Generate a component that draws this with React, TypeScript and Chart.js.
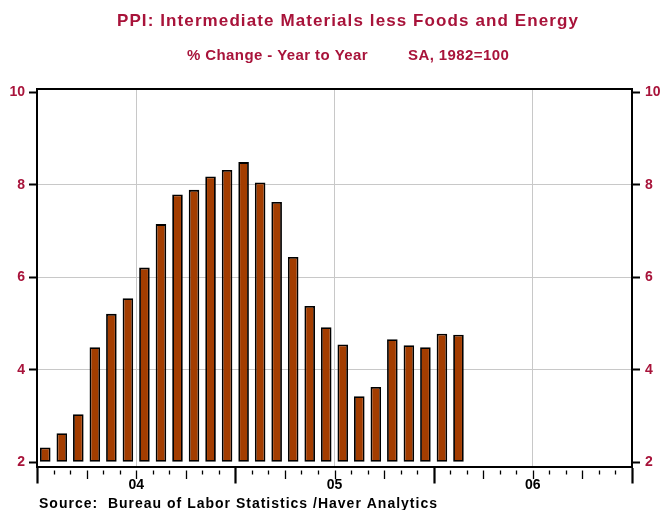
import React, { useEffect, useRef } from "react";
import { Chart, registerables } from "chart.js";

Chart.register(...registerables);

const TITLE = "PPI: Intermediate Materials less Foods and Energy";
const SUBTITLE_LEFT = "% Change - Year to Year";
const SUBTITLE_RIGHT = "SA, 1982=100";
const SOURCE = "Source:  Bureau of Labor Statistics /Haver Analytics";

const YEARS = ["2004", "2005", "2006"];
const YEAR_LABELS = ["04", "05", "06"];
const MONTHS = ["01", "02", "03", "04", "05", "06", "07", "08", "09", "10", "11", "12"];
const categories: string[] = YEARS.flatMap((y) => MONTHS.map((m) => `${y}-${m}`));

const ppiValues = [
  2.32, 2.63, 3.04, 4.49, 5.21, 5.55, 6.21, 7.15, 7.79, 7.89, 8.18, 8.32,
  8.49, 8.05, 7.63, 6.44, 5.38, 4.92, 4.55, 3.43, 3.63, 4.66, 4.53, 4.49,
  4.78, 4.76,
];

const yTicks = [2, 4, 6, 8, 10];
const Y_MIN = 1.9;
const Y_MAX = 10.07;
const BAR_BASE = 2;

const RED = "#A8133A";
const BAR_FILL = "#A33D00";
const GRID = "#C8C8C8";
const FONT = "'Liberation Sans', Arial, Helvetica, sans-serif";

const decorPlugin = {
  id: "decor",
  afterDraw(chart: any) {
    const { ctx, chartArea } = chart;
    const x2 = chart.scales.x2;
    ctx.save();
    // frame
    ctx.strokeStyle = "#000";
    ctx.lineWidth = 2;
    ctx.strokeRect(chartArea.left, chartArea.top, chartArea.right - chartArea.left, chartArea.bottom - chartArea.top);
    // month/quarter/year ticks
    const n = categories.length;
    for (let i = 0; i <= n; i++) {
      const px = Math.round(x2.getPixelForValue(i)) + 0.5;
      let y0 = chartArea.bottom + 3.5;
      let y1 = chartArea.bottom + 7.5;
      let w = 1.3;
      if (i % 12 === 0) {
        y0 = chartArea.bottom + 1;
        y1 = chartArea.bottom + 16.5;
        w = 2.2;
      } else if (i % 3 === 0) {
        y1 = chartArea.bottom + 12;
      }
      ctx.beginPath();
      ctx.lineWidth = w;
      ctx.moveTo(px, y0);
      ctx.lineTo(px, y1);
      ctx.stroke();
    }
    // titles
    ctx.fillStyle = RED;
    ctx.textBaseline = "alphabetic";
    (ctx as any).letterSpacing = "1.1px";
    ctx.font = `bold 17px ${FONT}`;
    ctx.textAlign = "center";
    ctx.fillText(TITLE, 348, 25.7);
    (ctx as any).letterSpacing = "0.4px";
    ctx.font = `bold 15px ${FONT}`;
    ctx.textAlign = "left";
    ctx.fillText(SUBTITLE_LEFT, 187, 60);
    ctx.fillText(SUBTITLE_RIGHT, 408, 60);
    (ctx as any).letterSpacing = "1px";
    ctx.fillStyle = "#000";
    ctx.font = `bold 14px ${FONT}`;
    ctx.fillText(SOURCE, 39, 507.5);
    ctx.restore();
  },
};

export default function App() {
  const canvasRef = useRef<HTMLCanvasElement | null>(null);

  useEffect(() => {
    document.body.style.margin = "0";
    const canvas = canvasRef.current;
    if (!canvas) return;
    const setYTicks = (scale: any) => {
      scale.ticks = yTicks.map((v) => ({ value: v }));
    };
    const tickFont = { family: FONT, size: 14, weight: "bold" as const };
    const chart = new Chart(canvas, {
      type: "bar",
      data: {
        labels: categories,
        datasets: [
          {
            data: ppiValues,
            base: BAR_BASE,
            backgroundColor: BAR_FILL,
            borderColor: "#000",
            borderWidth: 1.8,
            borderSkipped: false,
            categoryPercentage: 1,
            barPercentage: 0.64,
            xAxisID: "x",
            yAxisID: "y",
          } as any,
        ],
      },
      options: {
        animation: false,
        responsive: false,
        devicePixelRatio: 1,
        layout: { padding: { top: 89, left: 0, right: 0, bottom: 0 } },
        plugins: {
          legend: { display: false },
          tooltip: { enabled: false },
          title: { display: false },
        },
        scales: {
          x: {
            type: "category",
            display: false,
            offset: true,
          },
          x2: {
            type: "linear",
            position: "bottom",
            offset: false,
            min: 0,
            max: categories.length,
            afterBuildTicks: (scale: any) => {
              scale.ticks = YEAR_LABELS.map((_, i) => ({ value: i * 12 + 6 }));
            },
            afterFit: (scale: any) => {
              scale.height = 43;
            },
            ticks: {
              color: "#000",
              font: tickFont,
              padding: 10,
              maxRotation: 0,
              autoSkip: false,
              callback: (v: any) => YEAR_LABELS[Math.floor(Number(v) / 12)] ?? "",
            },
            grid: { color: GRID, lineWidth: 1, drawTicks: false, offset: false },
            border: { display: false },
          },
          y: {
            type: "linear",
            position: "left",
            min: Y_MIN,
            max: Y_MAX,
            afterBuildTicks: setYTicks,
            afterFit: (scale: any) => {
              scale.width = 37;
            },
            ticks: { color: RED, font: tickFont, padding: 4, callback: (v: any) => String(v) },
            grid: {
              color: (c: any) => (c.tick && (c.tick.value === 2 || c.tick.value === 10) ? "rgba(0,0,0,0)" : GRID),
              lineWidth: 1,
              tickColor: "#000",
              tickLength: 8,
              tickWidth: 2,
            },
            border: { display: false },
          },
          y2: {
            type: "linear",
            position: "right",
            min: Y_MIN,
            max: Y_MAX,
            afterBuildTicks: setYTicks,
            afterFit: (scale: any) => {
              scale.width = 30;
            },
            ticks: { color: RED, font: tickFont, padding: 5, callback: (v: any) => String(v) },
            grid: {
              drawOnChartArea: false,
              color: "#000",
              tickColor: "#000",
              tickLength: 8,
              tickWidth: 2,
            },
            border: { display: false },
          },
        },
      },
      plugins: [decorPlugin],
    });
    return () => chart.destroy();
  }, []);

  return (
    <div style={{ width: 662, height: 510, background: "#fff" }}>
      <canvas ref={canvasRef} width={662} height={510} />
    </div>
  );
}
